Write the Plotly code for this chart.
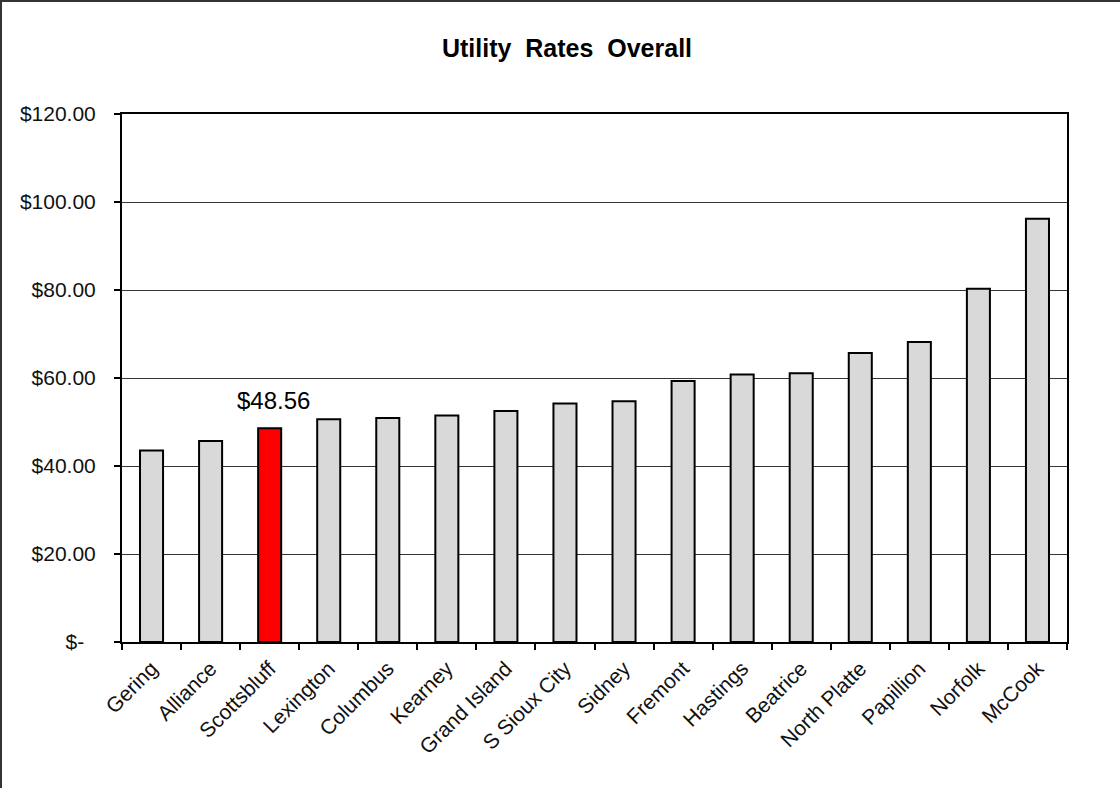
import plotly.graph_objects as go

# Monthly utility rates by city (sorted ascending)
cities = ["Gering", "Alliance", "Scottsbluff", "Lexington", "Columbus", "Kearney",
          "Grand Island", "S Sioux City", "Sidney", "Fremont", "Hastings", "Beatrice",
          "North Platte", "Papillion", "Norfolk", "McCook"]
rates = [43.5, 45.7, 48.56, 50.6, 50.9, 51.5, 52.5, 54.2, 54.7, 59.3, 60.8, 61.1,
         65.7, 68.2, 80.3, 96.2]
highlight_city = "Scottsbluff"

y_ticks = [0, 20, 40, 60, 80, 100, 120]
y_tick_labels = ["$-\u00a0\u00a0", "$20.00", "$40.00", "$60.00", "$80.00", "$100.00", "$120.00"]

W, H = 1120, 788
L, R, T, B = 122, 53, 114, 146

colors = ["#ff0000" if c == highlight_city else "#d9d9d9" for c in cities]

fig = go.Figure()
fig.add_trace(go.Bar(
    x=cities, y=rates,
    marker=dict(color=colors, line=dict(color="black", width=2)),
    width=0.39,
    hoverinfo="x+y",
))

hi = cities.index(highlight_city)
fig.add_annotation(
    x=cities[hi], y=rates[hi], text=f"${rates[hi]:.2f}",
    showarrow=False, yanchor="bottom", yshift=12, xshift=4,
    font=dict(family="Liberation Sans, Arial, sans-serif", size=24, color="black"),
)

# Outer frame (left and top edges)
px = lambda v: (v - L) / (W - L - R)
py = lambda v: 1 - (v - T) / (H - T - B)
fig.add_shape(type="line", xref="paper", yref="paper",
              x0=px(1), x1=px(1), y0=py(0), y1=py(788),
              line=dict(color="#333333", width=2))
fig.add_shape(type="line", xref="paper", yref="paper",
              x0=px(0), x1=px(1120), y0=py(1), y1=py(1),
              line=dict(color="#333333", width=2))

fig.update_layout(
    width=W, height=H,
    margin=dict(l=L, r=R, t=T, b=B),
    paper_bgcolor="white", plot_bgcolor="white",
    showlegend=False,
    title=dict(
        text="<b>Utility\u00a0 Rates\u00a0 Overall</b>",
        x=px(567), xanchor="center", xref="paper",
        y=1 - 48 / H, yanchor="middle",
        font=dict(family="Liberation Sans, Arial, sans-serif", size=25, color="black"),
    ),
    font=dict(family="Liberation Sans, Arial, sans-serif", color="black"),
    bargap=0.61,
)

fig.update_xaxes(
    type="category",
    tickangle=-45,
    tickfont=dict(size=21, color="#111111"),
    ticks="outside", ticklen=6, tickwidth=1.5, tickcolor="black",
    tickson="boundaries",
    ticklabelstandoff=4,
    showline=True, linecolor="black", linewidth=2, mirror=True,
    showgrid=False, automargin=False,
)
fig.update_yaxes(
    range=[0, 120],
    tickvals=y_ticks, ticktext=y_tick_labels,
    tickfont=dict(size=21, color="#111111"),
    ticks="outside", ticklen=6, tickwidth=1.5, tickcolor="black",
    ticklabelstandoff=14,
    showline=True, linecolor="black", linewidth=2, mirror=True,
    showgrid=True, gridcolor="#333333", gridwidth=1,
    zeroline=False, automargin=False,
)

fig.write_html("out.html")
